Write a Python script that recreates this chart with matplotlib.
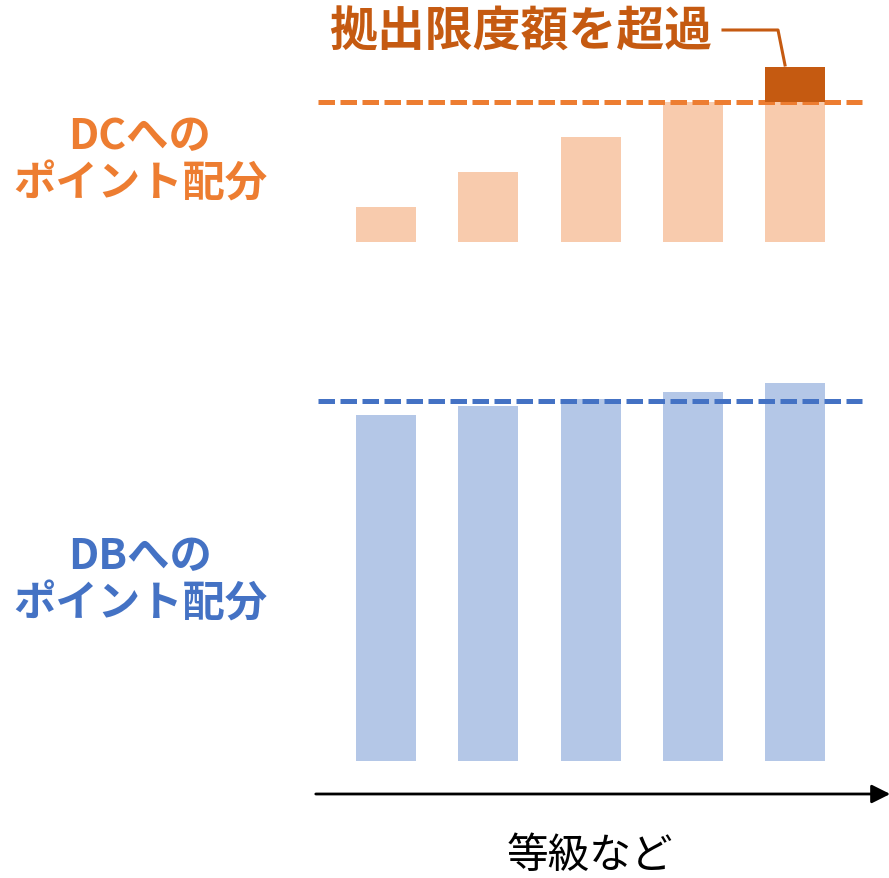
import matplotlib.pyplot as plt

plt.rcParams['font.family'] = ['Noto Sans CJK JP', 'DejaVu Sans']

# grades along the x axis
grades = [1, 2, 3, 4, 5]
dc_points = [1.0, 2.0, 3.0, 4.0, 5.0]
dc_limit = 4.0
db_points = [9.9, 10.15, 10.35, 10.55, 10.8]
db_limit = 10.3

ORANGE = '#ED7D31'
ORANGE_LIGHT = '#F8CBAD'
ORANGE_DARK = '#C55A11'
BLUE = '#4472C4'
BLUE_LIGHT = '#B4C7E7'

W, H = 889, 879
fig = plt.figure(figsize=(W / 100, H / 100), dpi=100)

def px_axes(left, top, right, bottom):
    return fig.add_axes([left / W, 1 - bottom / H, (right - left) / W, (bottom - top) / H])

# x in grade units: centres 102.25 px apart, first at x=386
step = 102.25
x0 = 386
def xl(px):
    return (px - x0) / step + 1

unit = 35  # px per point unit
bar_w = 60 / step

ax_dc = px_axes(313, 2, 889, 243)
ax_db = px_axes(313, 262, 889, 762)
for ax in (ax_dc, ax_db):
    ax.set_xlim(xl(313), xl(889))
    ax.axis('off')
ax_dc.set_ylim(0, 241 / unit)
ax_db.set_ylim(0, 500 / unit)

# DC: part up to the limit in light orange, excess in dark orange
capped = [min(v, dc_limit) for v in dc_points]
excess = [max(v - dc_limit, 0) for v in dc_points]
ax_dc.bar(grades, capped, width=bar_w, color=ORANGE_LIGHT, zorder=1)
ax_dc.bar(grades, excess, bottom=capped, width=bar_w, color=ORANGE_DARK, zorder=3)
ax_dc.plot([xl(318), xl(862)], [dc_limit, dc_limit], color=ORANGE, lw=3.6,
           dashes=(3.3, 1.1), zorder=2)

# DB
ax_db.bar(grades, db_points, width=bar_w, color=BLUE_LIGHT, zorder=1)
ax_db.plot([xl(318), xl(862)], [db_limit, db_limit], color=BLUE, lw=3.6,
           dashes=(3.3, 1.1), zorder=2)

# grade axis arrow
fig.add_artist(plt.matplotlib.patches.FancyArrowPatch(
    (313 / W, 1 - 795 / H), (893 / W, 1 - 795 / H), transform=fig.transFigure,
    arrowstyle='-|>', mutation_scale=28, lw=2, color='black'))
fig.text(590 / W, 1 - 857 / H, '等級など', ha='center', va='center', fontsize=30)

# labels
fig.text(140 / W, 1 - 161 / H, 'DCへの\nポイント配分', ha='center', va='center',
         fontsize=30.5, fontweight='bold', color=ORANGE, linespacing=1.15)
fig.text(140 / W, 1 - 581 / H, 'DBへの\nポイント配分', ha='center', va='center',
         fontsize=30.5, fontweight='bold', color=BLUE, linespacing=1.15)

fig.text(521 / W, 1 - 32 / H, '拠出限度額を超過', ha='center', va='center',
         fontsize=34.5, fontweight='bold', color=ORANGE_DARK)
fig.add_artist(plt.Line2D([723 / W, 778 / W, 785 / W],
                          [1 - 31 / H, 1 - 31 / H, 1 - 66 / H],
                          transform=fig.transFigure, color=ORANGE_DARK, lw=2.2))

fig.savefig('out.png', dpi=100)
